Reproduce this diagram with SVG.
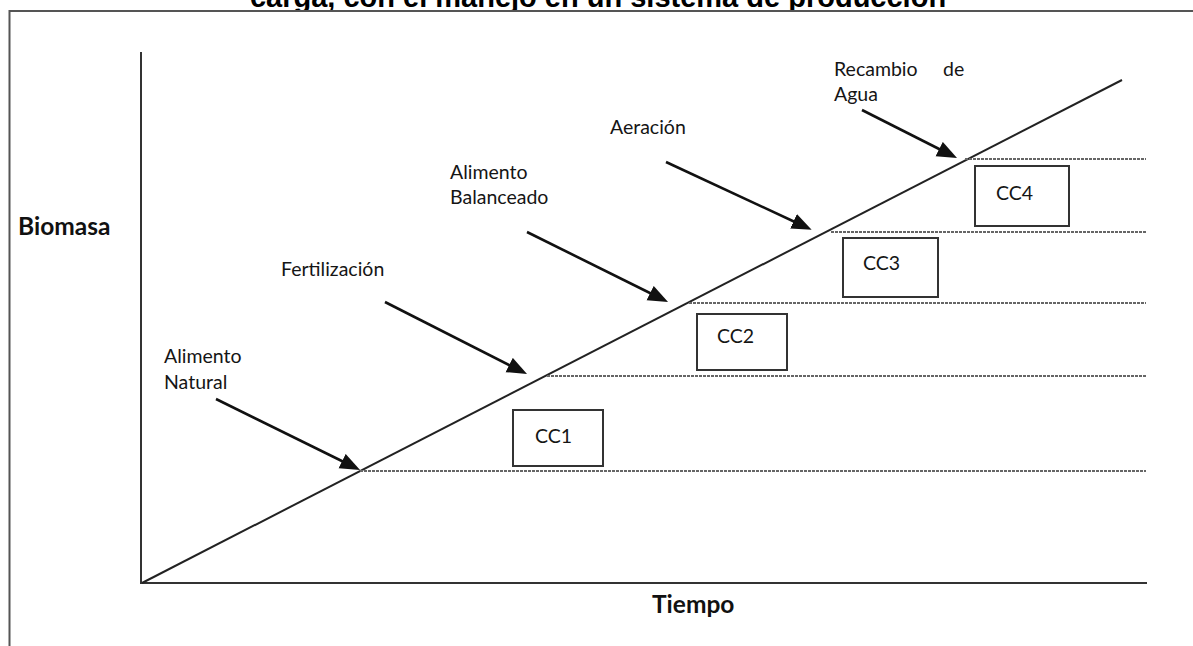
<svg xmlns="http://www.w3.org/2000/svg" width="1193" height="646" viewBox="0 0 1193 646">
<defs>
<style>
.frame{stroke:#555;stroke-width:2;fill:none}
.axis{stroke:#333;stroke-width:2;fill:none}
.diag{stroke:#222;stroke-width:2;fill:none}
.dash{stroke:#666;stroke-width:2.2;stroke-dasharray:3 1;fill:none}
.arrow{stroke:#111;stroke-width:2.6;fill:none;marker-end:url(#ah)}
.box{fill:#fff;stroke:#333;stroke-width:2}
.lbl{font-family:Lato,"Open Sans",sans-serif;font-size:19.5px;fill:#151515}
.cc{font-family:Lato,"Open Sans",sans-serif;font-size:19.5px;fill:#151515}
.ax{font-family:Lato,"Open Sans",sans-serif;font-size:24.5px;font-weight:bold;fill:#111}
.title{font-family:"Liberation Sans",Arial,sans-serif;font-size:29px;font-weight:bold;fill:#000}
</style>
<marker id="ah" markerUnits="userSpaceOnUse" markerWidth="22" markerHeight="18" refX="11" refY="8" orient="auto">
<path d="M0,0 L20,8 L0,16 z" fill="#111"/>
</marker>
<clipPath id="tc"><rect x="0" y="0" width="1193" height="10"/></clipPath>
</defs>
<rect width="1193" height="646" fill="#fff"/>
<text class="title" x="598" y="7" text-anchor="middle" clip-path="url(#tc)">carga, con el manejo en un sistema de producción</text>
<g id="frame">
<line class="frame" x1="9" y1="11" x2="1193" y2="11"/>
<line class="frame" x1="9.5" y1="10" x2="9.5" y2="646"/>
</g>
<g id="axes">
<line class="axis" x1="141" y1="52" x2="141" y2="583"/>
<line class="axis" x1="140" y1="583" x2="1147" y2="583"/>
<line class="diag" x1="142" y1="583" x2="1122" y2="80"/>
<text class="ax" x="18" y="235">Biomasa</text>
<text class="ax" x="652" y="613">Tiempo</text>
</g>
<g id="levels">
<line class="dash" x1="360" y1="471" x2="1146" y2="471"/>
<line class="dash" x1="547" y1="376" x2="1146" y2="376"/>
<line class="dash" x1="689" y1="303" x2="1146" y2="303"/>
<line class="dash" x1="831" y1="232" x2="1146" y2="232"/>
<line class="dash" x1="965" y1="159" x2="1146" y2="159"/>
</g>
<g id="cc1"><rect class="box" x="513" y="410" width="90" height="56"/><text class="cc" x="535" y="443">CC1</text></g>
<g id="cc2"><rect class="box" x="697" y="314" width="90" height="56"/><text class="cc" x="717" y="343">CC2</text></g>
<g id="cc3"><rect class="box" x="843" y="238" width="95" height="59"/><text class="cc" x="863" y="270">CC3</text></g>
<g id="cc4"><rect class="box" x="975" y="166" width="94" height="60"/><text class="cc" x="996" y="200">CC4</text></g>
<g id="alimento-natural"><text class="lbl"><tspan x="164" y="363">Alimento</tspan><tspan x="164" y="389">Natural</tspan></text></g>
<g id="fertilizacion"><text class="lbl" x="281" y="276">Fertilización</text></g>
<g id="alimento-balanceado"><text class="lbl"><tspan x="450" y="179">Alimento</tspan><tspan x="450" y="204">Balanceado</tspan></text></g>
<g id="aeracion"><text class="lbl" x="610" y="134">Aeración</text></g>
<g id="recambio"><text class="lbl"><tspan x="834" y="76">Recambio</tspan><tspan x="943" y="76">de</tspan><tspan x="834" y="101">Agua</tspan></text></g>
<g id="connectors">
<line class="arrow" x1="216" y1="399" x2="352" y2="466"/>
<line class="arrow" x1="385" y1="302" x2="519" y2="370"/>
<line class="arrow" x1="527" y1="232" x2="660" y2="298"/>
<line class="arrow" x1="666" y1="162" x2="803.5" y2="226"/>
<line class="arrow" x1="862" y1="110" x2="949" y2="154"/>
</g>
</svg>
